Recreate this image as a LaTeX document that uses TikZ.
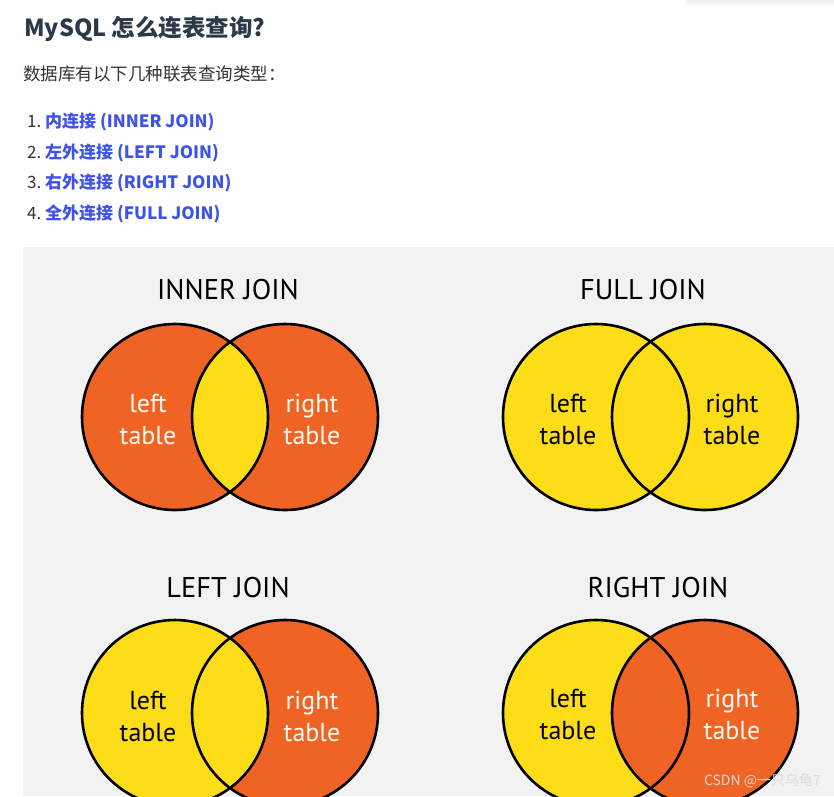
\documentclass[tikz,border=0pt]{standalone}
\usepackage{fontspec}
\setmainfont{PT Sans}
\newfontfamily\cjk{Noto Sans CJK SC}
\newfontfamily\vennfont{PT Sans}
\definecolor{orng}{HTML}{EF6424}
\definecolor{yel}{HTML}{FDDD17}
\definecolor{panel}{HTML}{F2F2F2}
\definecolor{hdr}{HTML}{2C3A47}
\definecolor{lnk}{HTML}{3C52E9}
\definecolor{txt}{HTML}{333333}
\definecolor{wm}{HTML}{D9D9D9}
\tikzset{
  ring/.style={draw=black, line width=2.6pt},
  jtitle/.style={anchor=base, inner sep=0pt, text=black, font=\vennfont\fontsize{28.5}{32}\selectfont},
  dlabel/.style={anchor=base, inner sep=0pt, text=black, font=\vennfont\fontsize{26}{32}\selectfont},
  wlabel/.style={dlabel, text=white!95!orange},
  head/.style={anchor=base west, inner sep=0pt, text=hdr, font=\cjk\bfseries\fontsize{23.5}{26}\selectfont},
  body/.style={anchor=base west, inner sep=0pt, text=txt, font=\cjk\fontsize{17.5}{20}\selectfont},
  num/.style={anchor=base west, inner sep=0pt, text=txt, font=\cjk\fontsize{17}{20}\selectfont},
  item/.style={anchor=base west, inner sep=0pt, text=lnk, font=\cjk\bfseries\fontsize{17}{20}\selectfont},
}
\begin{document}
\begin{tikzpicture}[x=1pt,y=-1pt]
\useasboundingbox (0,0) rectangle (834,796);
\fill[white] (0,0) rectangle (834,796);
% faint shadow top right
\shade[top color=black!8, bottom color=white] (686,0) rectangle (834,6);

% header texts
\node[head] (title) at (24,36) {MySQL 怎么连表查询?};
\node[body] (intro) at (23,80) {数据库有以下几种联表查询类型：};
\node[num] (n1) at (27,127.5) {1.};
\node[item] (i1) at (45,127.5) {内连接 (INNER JOIN)};
\node[num] (n2) at (27,158) {2.};
\node[item] (i2) at (45,158) {左外连接 (LEFT JOIN)};
\node[num] (n3) at (27,188.5) {3.};
\node[item] (i3) at (45,188.5) {右外连接 (RIGHT JOIN)};
\node[num] (n4) at (27,219) {4.};
\node[item] (i4) at (45,219) {全外连接 (FULL JOIN)};

% panel
\fill[panel] (23,247) rectangle (834,796);

\begin{scope}
\clip (23,247) rectangle (834,796);
% INNER JOIN
\fill[orng] (175,417) circle[radius=93pt];
\fill[orng] (285,417) circle[radius=93pt];
\begin{scope}
  \clip (175,417) circle[radius=93pt];
  \fill[yel] (285,417) circle[radius=93pt];
\end{scope}
\draw[ring] (175,417) circle[radius=93pt] (285,417) circle[radius=93pt];

% FULL JOIN
\fill[yel] (596,417) circle[radius=93pt];
\fill[yel] (705,417) circle[radius=93pt];
\draw[ring] (596,417) circle[radius=93pt] (705,417) circle[radius=93pt];

% LEFT JOIN
\fill[orng] (285,713) circle[radius=93pt];
\fill[yel] (175,713) circle[radius=93pt];
\draw[ring] (175,713) circle[radius=93pt] (285,713) circle[radius=93pt];

% RIGHT JOIN
\fill[yel] (596,713) circle[radius=93pt];
\fill[orng] (705,713) circle[radius=93pt];
\draw[ring] (596,713) circle[radius=93pt] (705,713) circle[radius=93pt];
\end{scope}

% titles
\node[jtitle] (tinner) at (228,299) {INNER JOIN};
\node[jtitle] (tfull) at (643,299) {FULL JOIN};
\node[jtitle] (tleft) at (228,597) {LEFT JOIN};
\node[jtitle] (tright) at (658,597) {RIGHT JOIN};

% labels
\node[wlabel] (ia) at (148,412) {left};
\node[wlabel] (ib) at (148,444) {table};
\node[wlabel] (ic) at (312,412) {right};
\node[wlabel] (id) at (312,444) {table};

\node[dlabel] (fa) at (568,412) {left};
\node[dlabel] (fb) at (568,444) {table};
\node[dlabel] (fc) at (732,412) {right};
\node[dlabel] (fd) at (732,444) {table};

\node[dlabel] (la) at (148,709) {left};
\node[dlabel] (lb) at (148,741) {table};
\node[wlabel] (lc) at (312,709) {right};
\node[wlabel] (ld) at (312,741) {table};

\node[dlabel] (ra) at (568,707) {left};
\node[dlabel] (rb) at (568,739) {table};
\node[wlabel] (rc) at (732,707) {right};
\node[wlabel] (rd) at (732,739) {table};

% watermark
\node[anchor=base east, inner sep=0pt, text=wm, font=\cjk\fontsize{14}{16}\selectfont] (wmk) at (821,785) {CSDN @一只乌龟7};
\end{tikzpicture}
\end{document}
